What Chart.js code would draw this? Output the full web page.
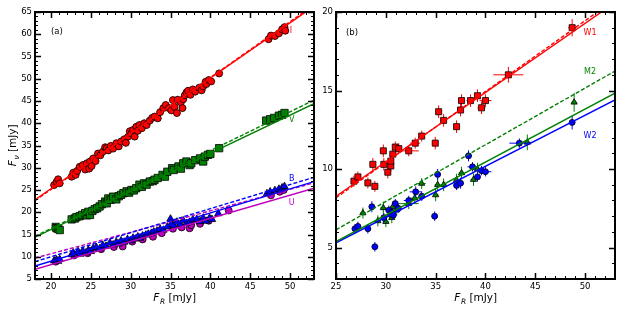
<!DOCTYPE html>
<html>
<head>
<meta charset="utf-8">
<script src="https://cdn.jsdelivr.net/npm/chart.js@4.4.0/dist/chart.umd.min.js"></script>
<style>
  html, body { margin: 0; padding: 0; background: #fff; }
  #wrap { position: relative; width: 623px; height: 312px; }
  #cl { position: absolute; left: 0; top: 0; }
  #cr { position: absolute; left: 320px; top: 0; }
</style>
</head>
<body>
<div id="wrap">
  <canvas id="cl" width="320" height="312"></canvas>
  <canvas id="cr" width="303" height="312"></canvas>
</div>
<script>
// ── Panel (a): optical bands vs F_R ──────────────────────────────────────────
const I_X = [20.4,20.7,20.9,21.1,22.6,22.8,23.1,23.3,23.6,24.0,24.3,24.5,24.8,24.9,25.1,25.3,25.6,25.9,26.2,26.5,26.8,27.0,27.2,27.5,27.8,28.2,28.5,28.8,29.2,29.4,29.7,29.9,30.1,30.3,30.5,30.7,30.9,31.1,31.4,31.7,32.0,32.4,32.7,33.0,33.4,33.7,34.1,34.4,34.8,35.1,35.3,35.5,35.8,35.9,36.3,36.5,36.6,36.8,37.0,37.2,37.5,37.8,38.1,38.6,38.9,39.1,39.4,39.5,39.8,40.1,41.1,47.3,47.6,48.1,48.6,49.0,49.3,49.4];
const I_Y = [26.1,26.8,27.4,26.5,28.0,28.9,28.4,29.3,30.2,30.6,29.6,31.0,29.8,31.4,30.4,32.1,31.5,33.2,32.8,33.6,34.6,34.4,33.9,34.9,34.3,35.5,34.8,35.9,36.4,35.6,37.0,38.2,37.7,38.5,37.0,39.2,38.3,39.6,38.9,40.0,39.6,40.6,41.2,41.5,41.1,42.5,43.4,44.1,43.4,42.9,45.2,43.7,42.3,45.3,44.7,43.4,45.4,46.3,46.9,47.3,46.4,47.6,47.1,48.0,47.4,48.3,49.3,48.8,49.7,49.4,51.2,58.9,59.7,59.6,60.2,61.1,61.6,60.8];

const V_X = [20.6,20.7,20.9,21.1,22.6,23.0,23.2,23.6,23.9,24.3,24.5,24.7,24.9,25.2,25.5,25.8,26.1,26.4,26.8,27.0,27.2,27.5,27.8,28.2,28.5,28.8,29.1,29.5,29.8,30.1,30.4,30.7,31.1,31.4,31.7,32.0,32.4,32.8,33.0,33.4,34.0,34.3,34.6,35.2,35.4,36.0,36.3,36.6,37.0,37.4,37.6,38.1,38.7,39.1,39.3,39.7,40.0,41.1,47.0,47.5,48.0,48.6,49.0,49.3];
const V_Y = [16.7,16.4,16.3,16.0,18.4,18.6,18.9,19.1,19.4,19.8,19.3,20.1,19.4,20.3,20.7,20.9,21.3,21.8,22.4,22.0,23.1,22.8,23.5,22.9,23.6,23.9,24.3,24.7,24.4,25.0,24.9,25.4,26.2,25.7,26.5,26.2,26.9,27.0,27.3,27.7,28.4,28.0,29.1,29.9,29.5,30.3,29.8,31.0,31.4,30.6,31.0,31.7,32.1,31.4,32.5,32.9,33.1,34.4,40.6,40.9,41.2,41.7,41.9,42.3];

const B_X = [20.4,20.7,20.9,21.1,22.6,22.8,23.4,23.7,24.0,24.4,24.7,25.0,25.3,25.7,26.1,26.5,26.9,27.4,27.8,28.2,28.5,28.8,29.2,29.6,30.0,30.3,30.6,30.9,31.2,31.5,31.9,32.2,32.6,32.9,33.3,33.7,34.1,34.6,35.0,35.1,35.4,35.8,36.2,36.6,37.0,37.4,37.8,38.3,38.7,39.1,39.5,39.9,40.2,41.0,47.1,47.5,48.1,48.6,49.0,49.3];
const B_Y = [9.1,9.3,9.0,9.4,10.5,10.9,11.2,10.6,11.3,10.9,11.5,11.2,11.9,12.1,11.8,12.6,12.4,13.1,12.7,13.3,12.9,13.6,13.3,13.9,13.6,14.2,14.0,14.5,14.2,14.7,14.9,15.1,15.3,15.6,15.8,16.2,16.0,16.7,18.5,17.4,17.0,17.8,17.3,18.1,17.5,17.8,18.3,18.4,17.9,18.7,18.0,18.7,18.4,19.7,24.2,24.6,24.9,25.2,25.5,25.8];

const U_X = [20.6,22.9,24.6,26.3,27.9,29.0,30.2,31.5,32.8,33.9,35.3,36.4,37.4,37.6,38.7,39.8,42.3,47.6,48.7,49.2];
const U_Y = [8.9,10.3,10.8,11.7,12.2,12.3,13.4,13.9,14.5,15.3,16.3,16.6,16.4,17.1,17.4,18.1,20.4,23.8,24.6,25.0];

// fitted lines, value at x = 18 and x = 53 (solid / dashed)
const FIT_A_X = [18, 53];
const I_FIT  = [22.8, 66.3], I_FIT2 = [22.6, 66.6];
const V_FIT  = [14.4, 44.4], V_FIT2 = [14.6, 45.2];
const B_FIT  = [7.9, 26.9],  B_FIT2 = [8.9, 27.85];
const U_FIT  = [7.2, 25.4],  U_FIT2 = [9.7, 26.6];

const A_XTICKS = [20, 25, 30, 35, 40, 45, 50];
const A_YTICKS = [5, 10, 15, 20, 25, 30, 35, 40, 45, 50, 55, 60, 65];

// ── Panel (b): UV / IR bands vs F_R ──────────────────────────────────────────
const W1_X = [26.8,27.2,28.2,28.9,28.7,29.75,29.8,30.2,30.5,30.5,30.7,30.95,31.3,32.3,32.95,33.6,34.96,35.3,35.8,37.1,37.5,37.6,38.5,39.2,39.6,40.0,42.3,48.7];
const W1_Y = [9.23,9.5,9.12,8.9,10.3,11.16,10.3,9.8,10.2,10.5,10.95,11.4,11.3,11.16,11.65,12.1,11.65,13.65,13.1,12.7,13.76,14.36,14.36,14.67,13.9,14.36,16.0,19.0];
const W1_XERR = [0.3,0.3,0.3,0.3,0.3,0.3,0.3,0.3,0.3,0.3,0.3,0.3,0.3,1.0,0.5,0.3,0.3,0.3,0.3,0.3,0.3,0.3,0.4,0.3,0.4,0.6,1.5,0.4];
const W1_YERR = [0.35,0.35,0.35,0.35,0.4,0.4,0.4,0.4,0.35,0.35,0.35,0.35,0.35,0.35,0.35,0.35,0.4,0.4,0.4,0.4,0.4,0.4,0.4,0.4,0.4,0.4,0.5,0.55];

const W2_X = [26.9,27.2,28.2,28.6,28.9,29.8,30.3,30.6,30.75,30.95,31.25,32.3,33.0,33.6,34.9,35.2,37.1,37.5,38.3,38.7,39.2,39.6,40.0,43.4,48.7];
const W2_Y = [6.2,6.35,6.2,7.6,5.05,6.9,7.38,7.25,7.06,7.8,7.5,8.0,8.55,8.27,7.0,9.66,8.96,9.1,10.84,10.14,9.5,9.9,9.83,11.65,12.97];
const W2_XERR = [0.3,0.3,0.3,0.3,0.3,0.3,0.3,0.3,0.3,0.3,0.3,0.5,0.6,0.3,0.3,0.3,0.3,0.3,0.3,0.5,0.3,0.3,0.6,1.0,0.3];
const W2_YERR = [0.3,0.3,0.3,0.35,0.3,0.3,0.3,0.3,0.3,0.3,0.3,0.3,0.35,0.3,0.3,0.35,0.3,0.35,0.35,0.3,0.3,0.3,0.3,0.3,0.45];

const M2_X = [27.7,29.2,29.75,30.0,30.4,30.6,30.7,31.1,32.3,32.9,33.6,35.0,35.2,35.8,37.1,37.6,38.8,39.2,44.2,48.9];
const M2_Y = [7.2,6.7,7.53,6.65,7.1,6.9,7.6,7.4,7.8,8.15,9.08,8.35,9.0,9.0,9.3,9.75,9.33,10.0,11.7,14.25];
const M2_XERR = [0.3,0.3,0.3,0.3,0.3,0.3,0.3,0.3,1.0,0.4,0.4,0.3,0.3,0.3,0.3,0.3,0.3,0.6,0.5,0.3];
const M2_YERR = [0.35,0.35,0.4,0.35,0.35,0.35,0.35,0.35,0.35,0.35,0.35,0.4,0.4,0.4,0.4,0.4,0.4,0.4,0.5,0.6];

// fitted lines, value at x = 25 and x = 53
const FIT_B_X = [25, 53];
const W1_FIT = [8.27, 20.6], W1_FIT2 = [8.17, 20.8];
const M2_FIT = [5.38, 14.83], M2_FIT2 = [6.13, 16.24];
const W2_FIT = [5.3, 14.4];

const B_XTICKS = [25, 30, 35, 40, 45, 50];
const B_YTICKS = [5, 10, 15, 20];

// ─────────────────────────────────────────────────────────────────────────────

const FONT = '"DejaVu Sans", sans-serif';
const RED = '#ff0000', GREEN = '#008000', BLUE = '#0000ff', MAG = '#bf00bf';

const pts = (xs, ys) => xs.map((x, i) => ({ x, y: ys[i] }));

function fitLine(xs, ys, color, dashed) {
  return {
    data: pts(xs, ys),
    showLine: true,
    pointRadius: 0,
    borderColor: color,
    borderWidth: 1.4,
    borderDash: dashed ? [4, 2] : [],
    order: 0,
  };
}

function scatterSet(xs, ys, style, color, order, xErr, yErr) {
  return {
    data: pts(xs, ys),
    showLine: false,
    pointStyle: style.shape,
    pointRadius: style.r,
    pointBackgroundColor: color,
    pointBorderColor: '#000',
    pointBorderWidth: 0.8,
    errColor: color,
    xErr, yErr,
    order,
  };
}

// error bars under each dataset's markers
const errorBars = {
  id: 'errorBars',
  beforeDatasetDraw(chart, args) {
    const ds = chart.data.datasets[args.index];
    if (ds.xErr === undefined) return;
    const { ctx, scales: { x, y } } = chart;
    const a = chart.chartArea;
    ctx.save();
    ctx.beginPath();
    ctx.rect(a.left, a.top, a.right - a.left, a.bottom - a.top);
    ctx.clip();
    ctx.strokeStyle = ds.errColor;
    ctx.lineWidth = 1;
    ctx.beginPath();
    ds.data.forEach((p, i) => {
      const ex = Array.isArray(ds.xErr) ? ds.xErr[i] : ds.xErr;
      const ey = Array.isArray(ds.yErr) ? ds.yErr[i] : ds.yErr;
      const px = x.getPixelForValue(p.x), py = y.getPixelForValue(p.y);
      ctx.moveTo(x.getPixelForValue(p.x - ex), py);
      ctx.lineTo(x.getPixelForValue(p.x + ex), py);
      ctx.moveTo(px, y.getPixelForValue(p.y - ey));
      ctx.lineTo(px, y.getPixelForValue(p.y + ey));
    });
    ctx.stroke();
    ctx.restore();
  },
};

// matplotlib-like frame with inward major / minor ticks on all sides
function tickValues(scale) {
  const major = scale.ticks.map(t => t.value);
  const minor = [];
  for (let v = Math.ceil(scale.min); v <= Math.floor(scale.max); v++) {
    if (!major.includes(v)) minor.push(v);
  }
  return { major, minor };
}

const frameTicks = {
  id: 'frameTicks',
  afterDraw(chart) {
    const { ctx, chartArea: a, scales: { x, y } } = chart;
    ctx.save();
    ctx.strokeStyle = '#000';
    const draw = (scale, horiz, values, len, lw) => {
      ctx.lineWidth = lw;
      ctx.beginPath();
      values.forEach(v => {
        const p = Math.round(scale.getPixelForValue(v)) + 0.5;
        if (horiz) {
          ctx.moveTo(p, a.bottom); ctx.lineTo(p, a.bottom - len);
          ctx.moveTo(p, a.top); ctx.lineTo(p, a.top + len);
        } else {
          ctx.moveTo(a.left, p); ctx.lineTo(a.left + len, p);
          ctx.moveTo(a.right, p); ctx.lineTo(a.right - len, p);
        }
      });
      ctx.stroke();
    };
    const tx = tickValues(x), ty = tickValues(y);
    draw(x, true, tx.major, 6, 1.5);
    draw(x, true, tx.minor, 3, 1);
    draw(y, false, ty.major, 6, 1.5);
    draw(y, false, ty.minor, 3, 1);
    ctx.lineWidth = 2;
    ctx.strokeRect(a.left, a.top, a.right - a.left, a.bottom - a.top);
    ctx.restore();
  },
};

// F_sub [mJy] axis titles
function drawFTitle(ctx, cx, cy, sub, angle) {
  ctx.save();
  ctx.translate(cx, cy);
  ctx.rotate(angle);
  const big = 'italic 10.5px ' + FONT, small = 'italic 7.5px ' + FONT, plain = '10.5px ' + FONT;
  const rest = ' [mJy]';
  ctx.font = big; const wF = ctx.measureText('F').width;
  ctx.font = small; const wS = ctx.measureText(sub).width;
  ctx.font = plain; const wR = ctx.measureText(rest).width;
  const x0 = -(wF + wS + wR) / 2;
  ctx.fillStyle = '#000';
  ctx.textAlign = 'left';
  ctx.textBaseline = 'alphabetic';
  ctx.font = big; ctx.fillText('F', x0, 4);
  ctx.font = small; ctx.fillText(sub, x0 + wF + 0.5, 6.5);
  ctx.font = plain; ctx.fillText(rest, x0 + wF + wS + 0.5, 4);
  ctx.restore();
}

const axisTitles = {
  id: 'axisTitles',
  afterDraw(chart, args, opts) {
    const { ctx, chartArea: a } = chart;
    drawFTitle(ctx, (a.left + a.right) / 2, 297, 'R', 0);
    if (opts.yTitle) drawFTitle(ctx, 12, (a.top + a.bottom) / 2, 'ν', -Math.PI / 2);
  },
};

// band names and panel tags placed in data coordinates
const notes = {
  id: 'notes',
  afterDatasetsDraw(chart, args, opts) {
    const { ctx, scales: { x, y } } = chart;
    ctx.save();
    ctx.textBaseline = 'middle';
    (opts.items || []).forEach(n => {
      ctx.font = (n.size || 8) + 'px ' + FONT;
      ctx.fillStyle = n.color;
      ctx.textAlign = n.align || 'center';
      ctx.fillText(n.text, x.getPixelForValue(n.x), y.getPixelForValue(n.y));
    });
    ctx.restore();
  },
};

function axis(min, max, tickList, fitFn) {
  return {
    type: 'linear',
    min, max,
    grid: { display: false, drawTicks: false },
    border: { display: false },
    ticks: {
      autoSkip: false,
      maxRotation: 0,
      padding: 3,
      color: '#000',
      font: { family: FONT, size: 8.5 },
    },
    afterBuildTicks: s => { s.ticks = tickList.map(v => ({ value: v })); },
    afterFit: fitFn,
  };
}

function baseOptions(xr, yr, xt, yt, yWidth, padRight, extra) {
  return {
    responsive: false,
    animation: false,
    events: [],
    layout: { padding: { top: 12, right: padRight, left: 0, bottom: 0 } },
    plugins: {
      legend: { display: false },
      tooltip: { enabled: false },
      ...extra,
    },
    scales: {
      x: axis(xr[0], xr[1], xt, s => { s.height = 33; }),
      y: axis(yr[0], yr[1], yt, s => { s.width = yWidth; }),
    },
  };
}

const CIRCLE = { shape: 'circle', r: 3.5 };
const SQUARE = { shape: 'rect', r: 5.2 };
const TRI    = { shape: 'triangle', r: 4.3 };

new Chart(document.getElementById('cl'), {
  type: 'scatter',
  data: {
    datasets: [
      fitLine(FIT_A_X, I_FIT, RED, false),
      fitLine(FIT_A_X, I_FIT2, RED, true),
      fitLine(FIT_A_X, V_FIT, GREEN, false),
      fitLine(FIT_A_X, V_FIT2, GREEN, true),
      fitLine(FIT_A_X, B_FIT, BLUE, false),
      fitLine(FIT_A_X, B_FIT2, BLUE, true),
      fitLine(FIT_A_X, U_FIT, MAG, false),
      fitLine(FIT_A_X, U_FIT2, MAG, true),
      scatterSet(I_X, I_Y, CIRCLE, RED, 1, 0.45, 0.8),
      scatterSet(V_X, V_Y, SQUARE, GREEN, 2, 0.3, 0.4),
      scatterSet(B_X, B_Y, TRI, BLUE, 3, 0.3, 0.3),
      scatterSet(U_X, U_Y, CIRCLE, MAG, 4, 0.3, 0.3),
    ],
  },
  options: baseOptions([18, 53], [5, 65], A_XTICKS, A_YTICKS, 35, 5, {
    axisTitles: { yTitle: true },
    notes: {
      items: [
        { text: '(a)', x: 20.0, y: 60.5, color: '#000', align: 'left', size: 8.5 },
        { text: 'I', x: 50.1, y: 60.8, color: RED },
        { text: 'V', x: 50.2, y: 40.7, color: GREEN },
        { text: 'B', x: 50.2, y: 27.6, color: BLUE },
        { text: 'U', x: 50.2, y: 22.2, color: MAG },
      ],
    },
  }),
  plugins: [errorBars, frameTicks, axisTitles, notes],
});

new Chart(document.getElementById('cr'), {
  type: 'scatter',
  data: {
    datasets: [
      fitLine(FIT_B_X, W1_FIT, RED, false),
      fitLine(FIT_B_X, W1_FIT2, RED, true),
      fitLine(FIT_B_X, M2_FIT, GREEN, false),
      fitLine(FIT_B_X, M2_FIT2, GREEN, true),
      fitLine(FIT_B_X, W2_FIT, BLUE, false),
      scatterSet(W1_X, W1_Y, { shape: 'rect', r: 4.3 }, RED, 1, W1_XERR, W1_YERR),
      scatterSet(W2_X, W2_Y, { shape: 'circle', r: 3 }, BLUE, 2, W2_XERR, W2_YERR),
      scatterSet(M2_X, M2_Y, { shape: 'triangle', r: 3.6 }, GREEN, 3, M2_XERR, M2_YERR),
    ],
  },
  options: baseOptions([25, 53], [3, 20], B_XTICKS, B_YTICKS, 16, 8, {
    axisTitles: { yTitle: false },
    notes: {
      items: [
        { text: '(b)', x: 26.0, y: 18.67, color: '#000', align: 'left', size: 8.5 },
        { text: 'W1', x: 50.5, y: 18.67, color: RED },
        { text: 'M2', x: 50.5, y: 16.17, color: GREEN },
        { text: 'W2', x: 50.5, y: 12.13, color: BLUE },
      ],
    },
  }),
  plugins: [errorBars, frameTicks, axisTitles, notes],
});
</script>
</body>
</html>
